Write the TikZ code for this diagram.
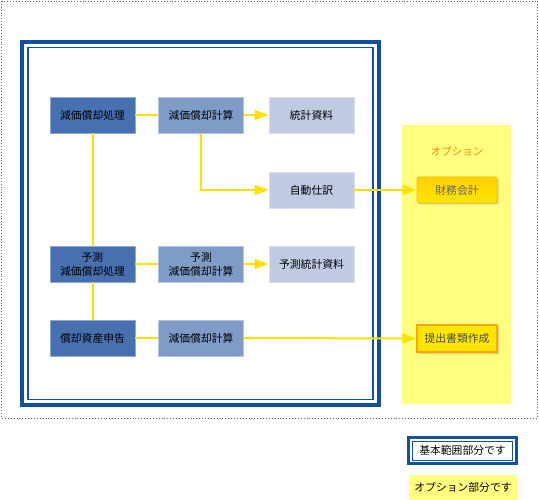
\documentclass[tikz,border=0pt]{standalone}
\usepackage{fontspec}
\setmainfont{Noto Sans CJK JP}
\usetikzlibrary{arrows.meta,shadows}
\definecolor{dkb}{RGB}{70,112,176}
\definecolor{mdb}{RGB}{127,156,201}
\definecolor{ltb}{RGB}{192,202,226}
\definecolor{frb}{RGB}{16,80,160}
\definecolor{optY}{RGB}{255,255,128}
\definecolor{arY}{RGB}{255,224,0}
\definecolor{boxY}{RGB}{255,230,0}
\definecolor{boxYt}{RGB}{255,208,0}
\definecolor{orng}{RGB}{255,128,0}
\tikzset{
  x=1pt,y=-1pt,
  box/.style={minimum width=85pt,minimum height=36pt,inner sep=0pt,align=center,font=\fontsize{10.8}{14}\selectfont,text=black},
  dark/.style={box,fill=dkb,draw=dkb!60!white,line width=0.8pt},
  mid/.style={box,fill=mdb,draw=mdb!60!white,line width=0.8pt},
  light/.style={box,fill=ltb,draw=ltb!60!white,line width=0.8pt},
  conn/.style={draw=arY,line width=2pt},
  arr/.style={conn,-{Triangle[length=14pt,width=10pt]}},
  opt/.style={minimum width=80pt,minimum height=26pt,inner sep=0pt,font=\fontsize{10.8}{13}\selectfont,drop shadow={shadow xshift=1.5pt,shadow yshift=-1.5pt,opacity=0.35}},
}
\begin{document}
\begin{tikzpicture}
\useasboundingbox (0,0) rectangle (539,500);
\fill[white] (0,0) rectangle (539,500);
% dotted outer
\draw[gray!80!black,dotted,line width=0.9pt] (1.5,1) rectangle (537.5,418);
% main double frame
\draw[frb,line width=3.5pt] (22,42) rectangle (379,405);
\draw[frb,line width=1.8pt] (28,47.5) rectangle (373,399.5);
% option area
\fill[optY] (402,125) rectangle (511,404);
\node[text=orng,font=\fontsize{10.5}{12}\selectfont] (optlbl) at (457,151) {オプション};
% boxes
\node[dark] (p1) at (92.5,115) {減価償却処理};
\node[mid]  (c1) at (201,115) {減価償却計算};
\node[light] (s1) at (311.5,115) {統計資料};
\node[light] (j1) at (311.5,190) {自動仕訳};
\node[dark] (p2) at (92.5,264) {予測\\減価償却処理};
\node[mid]  (c2) at (201,264) {予測\\減価償却計算};
\node[light] (s2) at (311.5,264) {予測統計資料};
\node[dark] (p3) at (92.5,338) {償却資産申告};
\node[mid]  (c3) at (201,338) {減価償却計算};
% option boxes
\node[opt,top color=boxYt,bottom color=boxY,draw=boxYt!80!orange,line width=0.6pt,rounded corners=1.5pt,text=black!60] (fin) at (457,190) {財務会計};
\node[opt,fill=boxY,draw=orange!70!yellow,line width=1.2pt,minimum height=27pt,text=black!70] (doc) at (457,338.5) {提出書類作成};
% connectors
\draw[conn] (p1) -- (c1);
\draw[arr] (c1) -- (s1);
\draw[arr] (c1.south) |- (j1.west);
\draw[arr] (j1) -- (fin);
\draw[conn] (p1) -- (p2);
\draw[conn] (p2) -- (c2);
\draw[arr] (c2) -- (s2);
\draw[conn] (p2) -- (p3);
\draw[conn] (p3) -- (c3);
\draw[arr] (c3) -- (doc);
% legend
\node[draw=frb,line width=2.2pt,minimum width=108pt,minimum height=26pt,inner sep=0pt] (lg1) at (462.5,450.5) {};
\node[draw=frb,line width=1pt,minimum width=100pt,minimum height=19pt,inner sep=0pt,font=\fontsize{10.8}{13}\selectfont] (lg1t) at (462.5,450.5) {基本範囲部分です};
\node[fill=optY,minimum width=108pt,minimum height=25pt,inner sep=0pt,font=\fontsize{10.8}{13}\selectfont] (lg2) at (463,487.5) {オプション部分です};
\end{tikzpicture}
\end{document}
